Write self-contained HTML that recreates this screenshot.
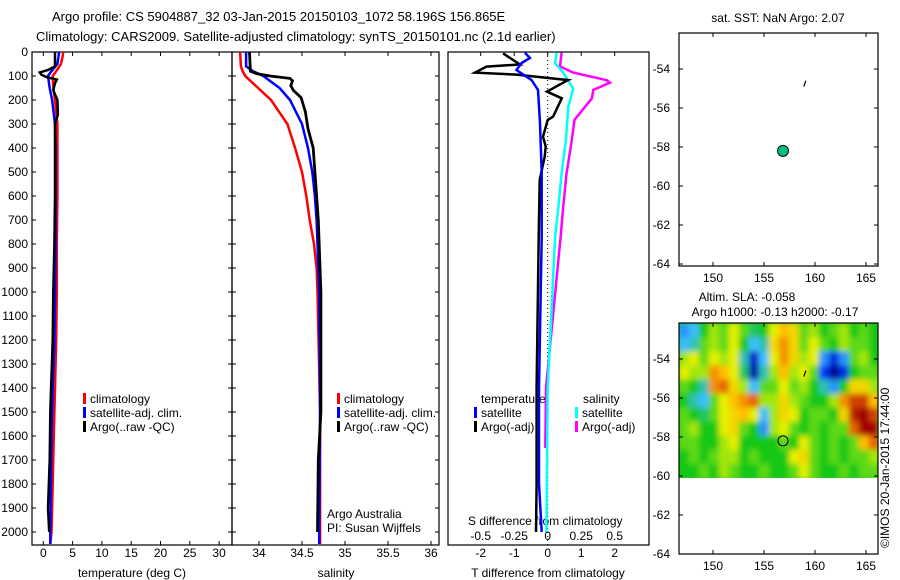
<!DOCTYPE html>
<html><head><meta charset="utf-8"><style>
html,body{margin:0;padding:0;background:#fff}
svg{display:block;font-family:"Liberation Sans",sans-serif}
text{fill:#000}
</style></head><body>
<svg id="c" width="900" height="580" viewBox="0 0 900 580" xmlns="http://www.w3.org/2000/svg">
<defs>
<clipPath id="mapclip"><rect x="679" y="323" width="199" height="156"/></clipPath>
<filter id="blur" x="-5%" y="-5%" width="110%" height="110%"><feGaussianBlur stdDeviation="3"/></filter>
</defs>
<text x="52" y="21" font-size="13">Argo profile: CS 5904887_32 03-Jan-2015 20150103_1072 58.196S 156.865E</text>
<text x="36" y="41" font-size="13">Climatology: CARS2009. Satellite-adjusted climatology: synTS_20150101.nc (2.1d earlier)</text>
<g id="layer"></g>
</svg>
<script>
// ---- data ----
const depthTicks=[0,100,200,300,400,500,600,700,800,900,1000,1100,1200,1300,1400,1500,1600,1700,1800,1900,2000];
const tempTicks=[0,5,10,15,20,25,30];
const salTicks=[34,34.5,35,35.5,36];
const tdTicks=[-2,-1,0,1,2];
const sdTicks=[-0.5,-0.25,0,0.25,0.5];
const sdTickLabels=["-0.5","-0.25","0","0.25","0.5"];
const lonTicks=[150,155,160,165];
const latTicks=[-54,-56,-58,-60,-62,-64];

const climDepth=[0,20,50,80,100,150,200,300,400,600,800,1000,1200,1400,1600,1800,2000,2050];
const climTemp=[3.4,3.3,3.0,2.2,1.6,1.7,2.0,2.4,2.4,2.4,2.3,2.3,2.2,2.0,1.8,1.6,1.4,1.2];
const satTemp=[2.7,2.6,2.4,1.4,0.8,1.1,1.5,2.0,2.1,2.1,2.1,2.0,1.9,1.6,1.4,1.3,1.2,1.2];
const argoDepth=[0,30,60,75,85,95,105,115,130,160,200,260,300,400,600,800,1000,1200,1500,1700,1900,2000];
const argoTemp=[2.0,2.0,2.0,0.8,-0.6,-0.3,0.6,2.3,2.0,1.7,2.4,2.5,2.0,2.0,2.0,1.9,1.7,1.6,1.2,1.1,0.8,1.0];

const salDepth=[0,60,80,100,150,200,300,400,500,600,700,800,900,1000,1500,2000,2050];
const climSal=[33.78,33.79,33.81,33.84,33.99,34.14,34.33,34.42,34.50,34.55,34.59,34.64,34.67,34.68,34.71,34.71,34.71];
const satSal=[33.85,33.85,33.93,34.05,34.24,34.36,34.50,34.57,34.62,34.65,34.67,34.68,34.69,34.70,34.71,34.70,34.70];
const argoSalDepth=[0,80,90,100,110,120,140,160,190,250,320,400,500,700,1000,1500,1700,2000];
const argoSal=[33.89,33.90,33.97,34.13,34.36,34.39,34.37,34.40,34.49,34.54,34.57,34.63,34.65,34.69,34.72,34.72,34.69,34.68];

const tdSatDepth=[3,25,46,75,117,158,296,505,771,1400,1800,2000];
const tdSat=[-0.68,-0.53,-0.78,-0.93,-0.48,-0.29,-0.23,-0.18,-0.18,-0.26,-0.26,-0.18];
const tdArgoDepth=[6,52,61,86,94,117,128,165,193,269,283,353,394,436,533,770,1400,1800,2000];
const tdArgo=[-1.33,-0.83,-1.83,-2.17,-0.93,0.61,0.46,-0.02,0.42,0.16,0,-0.14,-0.06,-0.09,-0.24,-0.27,-0.33,-0.33,-0.35];
const sdSatDepth=[3,46,86,153,229,368,507,646,771,1400,2000];
const sdSat=[0.067,0.055,0.116,0.19,0.154,0.136,0.104,0.08,0.055,0.0,-0.01];
const sdArgoDepth=[3,60,86,117,128,158,193,283,367,507,646,771,1400,1650];
const sdArgo=[0.104,0.092,0.19,0.44,0.465,0.34,0.33,0.2,0.18,0.14,0.116,0.096,-0.013,-0.018];

const floatLon=156.865, floatLat=-58.196;
const slaLon0=146.7, slaLat0=-52.2, slaDLon=0.98, slaDLat=0.72;
const slaGrid=[
[-4,-3,0,2,1,3,1,-1,0,3,5,4,1,2,0,1,2,0,1,0],
[-3,-2,1,2,1,3,0,-3,-2,4,6,4,1,3,1,0,2,1,1,0],
[2,3,1,3,2,3,-2,-8,-3,3,6,4,2,3,-4,-7,-4,1,2,0],
[3,2,2,6,5,3,-1,-9,-2,2,5,2,3,1,-6,-10,-7,0,1,1],
[1,0,-2,6,7,4,2,-3,1,1,3,1,2,0,-2,-4,0,4,4,2],
[0,-2,-3,1,3,5,6,7,2,2,4,2,1,0,0,2,6,8,8,5],
[1,0,-1,1,3,4,5,3,-3,2,4,3,0,1,1,0,4,9,10,8],
[1,2,0,0,3,4,1,0,-4,2,3,1,0,1,0,1,1,7,10,10],
[1,1,0,0,2,3,0,0,0,0,1,0,3,1,0,1,0,1,5,7],
[0,1,0,1,2,2,0,1,0,0,0,3,4,1,0,1,0,1,1,2],
[0,0,1,0,2,1,0,0,1,0,0,1,3,1,0,0,1,0,1,1]];

// ---- scales ----
const NS="http://www.w3.org/2000/svg";
const L=document.getElementById('layer');
const Y=d=>52+d*0.24;
const XT=t=>43.3+t*5.86;
const XS=s=>259+(s-34)*86;
const XD=t=>547.7+t*33.5;
const XSD=s=>547.7+s*134;
const mapLon=lo=>713+(lo-150)*10.2;
const mapLat1=la=>69+(-54-la)*19.5;
const mapLat2=la=>359+(-54-la)*19.5;

function mk(tag,at,parent){const e=document.createElementNS(NS,tag);for(const k in at)e.setAttribute(k,at[k]);(parent||L).appendChild(e);return e;}
function txt(x,y,s,anchor,size){const e=mk('text',{x:x,y:y,'font-size':size||12,'text-anchor':anchor||'start'});e.textContent=s;return e;}
function line(xs,ys,fx,color,w,name){
  let d='';for(let i=0;i<xs.length;i++){d+=(i?'L':'M')+fx(xs[i]).toFixed(1)+','+Y(ys[i]).toFixed(1);}
  const p=mk('path',{d:d,fill:'none',stroke:color,'stroke-width':w,'stroke-linejoin':'miter'});
  
  
  return p;
}

// ---- profile panel frames ----
const panels=[[32,232],[232,439],[448,649]];
panels.forEach((p,i)=>{
  const r=mk('rect',{x:p[0],y:52,width:p[1]-p[0],height:493,fill:'none',stroke:'#000','stroke-width':1.2});
  
  
});
depthTicks.forEach(d=>{
  const t=txt(28,Y(d)+4,String(d),'end');
  
  
  [32,232].forEach(x=>{mk('line',{x1:x,x2:x+4,y1:Y(d),y2:Y(d),stroke:'#000'});});
  [232,439].forEach(x=>{mk('line',{x1:x,x2:x-4,y1:Y(d),y2:Y(d),stroke:'#000'});});
});
tempTicks.forEach(v=>{const t=txt(XT(v),557,String(v),'middle');mk('line',{x1:XT(v),x2:XT(v),y1:52,y2:56,stroke:'#000'});mk('line',{x1:XT(v),x2:XT(v),y1:545,y2:541,stroke:'#000'});});
salTicks.forEach(v=>{const t=txt(XS(v),557,String(v),'middle');mk('line',{x1:XS(v),x2:XS(v),y1:52,y2:56,stroke:'#000'});mk('line',{x1:XS(v),x2:XS(v),y1:545,y2:541,stroke:'#000'});});
tdTicks.forEach(v=>{const t=txt(XD(v),557,String(v),'middle');mk('line',{x1:XD(v),x2:XD(v),y1:52,y2:56,stroke:'#000'});});
sdTicks.forEach((v,i)=>{const t=txt(XSD(v),540,sdTickLabels[i],'middle');});
let t;
t=txt(132,577,'temperature (deg C)','middle');
t=txt(336,577,'salinity','middle');
t=txt(548,577,'T difference from climatology','middle');
t=txt(468,525,'S difference from climatology');

// dotted zero line
const z=mk('line',{x1:XD(0),x2:XD(0),y1:52,y2:545,stroke:'#000','stroke-width':1,'stroke-dasharray':'1,3'});


// ---- series ----
line(climTemp,climDepth,XT,'#ff0000',2.5,'temp-climatology-line');
line(satTemp,climDepth,XT,'#0000ff',2.5,'temp-satellite-line');
line(argoTemp,argoDepth,XT,'#000',2.5,'temp-argo-line');
line(climSal,salDepth,XS,'#ff0000',2.5,'sal-climatology-line');
line(satSal,salDepth,XS,'#0000ff',2.5,'sal-satellite-line');
line(argoSal,argoSalDepth,XS,'#000',2.8,'sal-argo-line');
line(sdArgo,sdArgoDepth,XSD,'#ff00ff',2.5,'s-diff-argo-line');
line(sdSat,sdSatDepth,XSD,'#00ffff',2.5,'s-diff-satellite-line');
line(tdArgo,tdArgoDepth,XD,'#000',2.5,'t-diff-argo-line');
line(tdSat,tdSatDepth,XD,'#0000ff',2.5,'t-diff-satellite-line');

// ---- legends ----
function leg(x,y,color,label,name){
  const g=mk('g',{});
  
  
  mk('rect',{x:x,y:y-10,width:3,height:11,fill:color},g);
  const tt=mk('text',{x:x+7,y:y,'font-size':12},g);tt.textContent=label;
}
leg(83,403,'#ff0000','climatology','legend-climatology');
leg(83,417,'#0000ff','satellite-adj. clim.','legend-satellite-adj');
leg(83,431,'#000','Argo(..raw -QC)','legend-argo');
leg(337,403,'#ff0000','climatology','legend-sal-climatology');
leg(337,417,'#0000ff','satellite-adj. clim.','legend-sal-satellite-adj');
leg(337,431,'#000','Argo(..raw -QC)','legend-sal-argo');
t=txt(481,403,'temperature');
t=txt(583,403,'salinity');
leg(474,417,'#0000ff','satellite','legend-t-satellite');
leg(474,431,'#000','Argo(-adj)','legend-t-argo');
leg(575,417,'#00ffff','satellite','legend-s-satellite');
leg(575,431,'#ff00ff','Argo(-adj)','legend-s-argo');
t=txt(327,518,'Argo Australia');
t=txt(327,532,'PI: Susan Wijffels');

// ---- maps ----
function mapFrame(top,bottom,latF,name){
  const r=mk('rect',{x:679,y:top,width:199,height:bottom-top,fill:'none',stroke:'#000','stroke-width':1.2});
  
  
  latTicks.forEach(la=>{const y=latF(la);const tl=txt(670,y+4,String(la),'end');
    mk('line',{x1:679,x2:683,y1:y,y2:y,stroke:'#000'});mk('line',{x1:878,x2:874,y1:y,y2:y,stroke:'#000'});});
  lonTicks.forEach(lo=>{const x=mapLon(lo);const tl=txt(x,bottom+16,String(lo),'middle');
    mk('line',{x1:x,x2:x,y1:top,y2:top+4,stroke:'#000'});mk('line',{x1:x,x2:x,y1:bottom,y2:bottom-4,stroke:'#000'});});
}
t=txt(778,22,'sat. SST: NaN Argo: 2.07','middle');
mapFrame(33,266,mapLat1,'sst-map');
mk('line',{x1:mapLon(159)-1,y1:mapLat1(-54.9),x2:mapLon(159)+1,y2:mapLat1(-54.6),stroke:'#000','stroke-width':1.2});
const dot=mk('circle',{cx:mapLon(floatLon),cy:mapLat1(floatLat),r:5.5,fill:'#00c080',stroke:'#000','stroke-width':1});


// SLA heatmap
function cmap(v){
  const stops=[[-1,[0,0,140]],[-0.6,[0,60,255]],[-0.3,[60,190,255]],[0,[20,200,20]],[0.15,[130,225,20]],[0.3,[230,240,0]],[0.5,[255,190,0]],[0.7,[230,100,0]],[1,[160,0,0]]];
  for(let i=1;i<stops.length;i++){if(v<=stops[i][0]){const a=stops[i-1],b=stops[i],f=(v-a[0])/(b[0]-a[0]);
    return 'rgb('+a[1].map((c,j)=>Math.round(c+(b[1][j]-c)*f)).join(',')+')';}}
  return 'rgb(160,0,0)';
}
const hg=mk('g',{'clip-path':'url(#mapclip)'});

const hb=mk('g',{filter:'url(#blur)'},hg);
mk('rect',{x:670,y:315,width:220,height:170,fill:cmap(0)},hb);
slaGrid.forEach((row,r)=>row.forEach((v,c)=>{
  const lo=slaLon0+c*slaDLon, la=slaLat0-r*slaDLat;
  const x=mapLon(lo), y=mapLat2(la);
  const x2=mapLon(lo+slaDLon), y2=mapLat2(la-slaDLat);
  const cell=mk('rect',{x:x-0.5,y:y-0.5,width:x2-x+1,height:y2-y+1,fill:cmap(v/10)},hb);
  
  
}));
mk('rect',{x:679,y:mapLat2(-60.1),width:199,height:2,fill:'#fff'});
t=txt(747,301,'Altim. SLA: -0.058','middle');
t=txt(775,316,'Argo h1000: -0.13 h2000: -0.17','middle');
mapFrame(323,554,mapLat2,'sla-map');
mk('line',{x1:mapLon(159)-1,y1:mapLat2(-54.9),x2:mapLon(159)+1,y2:mapLat2(-54.6),stroke:'#000','stroke-width':1.2});
const oc=mk('circle',{cx:mapLon(floatLon),cy:mapLat2(floatLat),r:5,fill:'none',stroke:'#000','stroke-width':1});

const cr=mk('text',{x:0,y:0,'font-size':12,transform:'translate(889,548) rotate(-90)'});
cr.textContent='©IMOS 20-Jan-2015 17:44:00';

</script>
</body></html>
